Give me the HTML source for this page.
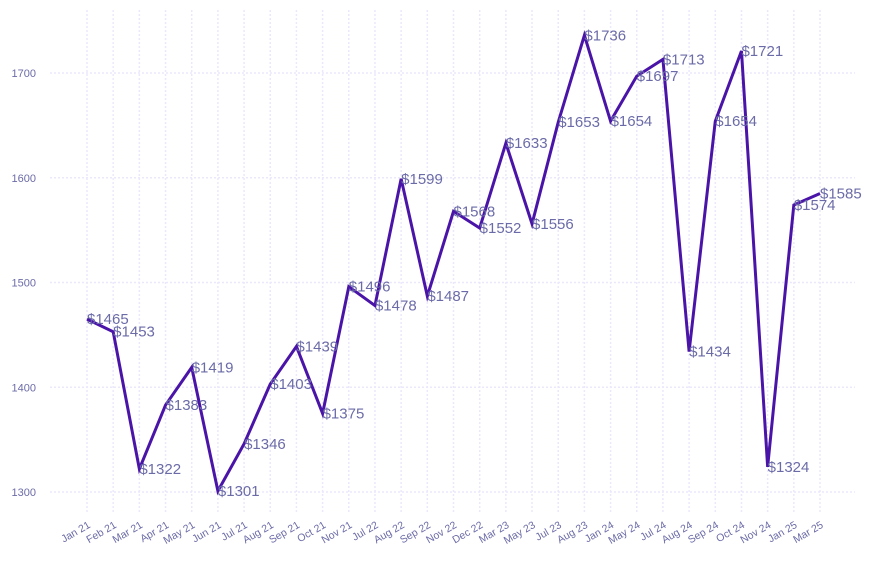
<!DOCTYPE html>
<html><head><meta charset="utf-8"><style>
body{margin:0;background:#fff;font-family:"Liberation Sans",sans-serif}
</style></head><body>
<svg id="chart" width="873" height="565" xmlns="http://www.w3.org/2000/svg">
<g id="grid"></g>
<g id="yaxis"></g>
<g id="xaxis"></g>
<g id="series"></g>
<g id="labels"></g>
</svg>
<script>
const categories=["Jan 21","Feb 21","Mar 21","Apr 21","May 21","Jun 21","Jul 21","Aug 21","Sep 21","Oct 21","Nov 21","Jul 22","Aug 22","Sep 22","Nov 22","Dec 22","Mar 23","May 23","Jul 23","Aug 23","Jan 24","May 24","Jul 24","Aug 24","Sep 24","Oct 24","Nov 24","Jan 25","Mar 25"];
const values=[1465,1453,1322,1383,1419,1301,1346,1403,1439,1375,1496,1478,1599,1487,1568,1552,1633,1556,1653,1736,1654,1697,1713,1434,1654,1721,1324,1574,1585];
const yTicks=[1300,1400,1500,1600,1700];
const NS="http://www.w3.org/2000/svg";
const x0=87,x1=820,plotL=50,plotR=855,plotT=10,plotB=512;
function xs(i){return x0+(x1-x0)*i/(categories.length-1);}
function ys(v){return 492-(v-1300)*(492-73)/400;}
function mk(tag,attrs,parent){const e=document.createElementNS(NS,tag);for(const k in attrs)e.setAttribute(k,attrs[k]);parent.appendChild(e);return e;}
const grid=document.getElementById('grid'),ya=document.getElementById('yaxis'),xa=document.getElementById('xaxis'),se=document.getElementById('series'),lb=document.getElementById('labels');
yTicks.forEach(t=>{
  const l=mk('line',{x1:plotL,x2:plotR,y1:ys(t),y2:ys(t),stroke:'#ebe8fb','stroke-width':1.5,'stroke-dasharray':'2,2'},grid);
  
  
  const tx=mk('text',{x:36,y:ys(t)+4,'text-anchor':'end','font-size':11,fill:'#6b6ba8'},ya);
  tx.textContent=t;
  
  
});
categories.forEach((c,i)=>{
  const l=mk('line',{x1:xs(i),x2:xs(i),y1:plotT,y2:plotB,stroke:'#ebe8fb','stroke-width':1.5,'stroke-dasharray':'2,2'},grid);
  
  
  const tx=mk('text',{x:xs(i)+4,y:527,'text-anchor':'end','font-size':10.5,fill:'#6b6ba8',transform:`rotate(-30 ${xs(i)+4} 527)`},xa);
  tx.textContent=c;
  
  
});
const p=mk('polyline',{points:values.map((v,i)=>xs(i)+','+ys(v)).join(' '),fill:'none',stroke:'#4a14a8','stroke-width':3,'stroke-linejoin':'miter'},se);


values.forEach((v,i)=>{
  const tx=mk('text',{x:xs(i),y:ys(v)+5,'font-size':15,fill:'#6b6ba8'},lb);
  tx.textContent='$'+v;
  
  
});
</script>
</body></html>
